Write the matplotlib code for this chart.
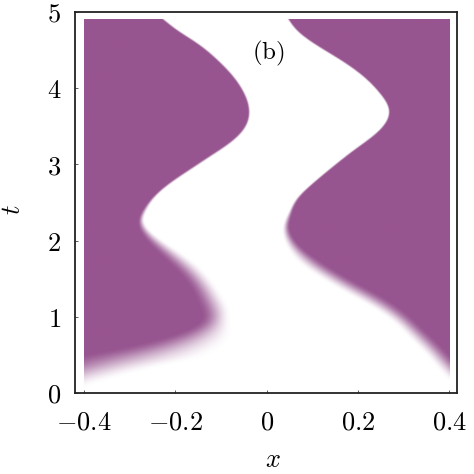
import numpy as np
import matplotlib
matplotlib.use('Agg')
from matplotlib import pyplot as plt
from matplotlib.colors import LinearSegmentedColormap

plt.rcParams['mathtext.fontset'] = 'cm'

# left purple region: boundary x_left(t), density falls off to the right of it
t_left = [0.0, 0.30, 0.39, 0.52, 0.66, 0.83, 1.05, 1.22, 1.44, 1.66, 1.88, 2.05,
          2.25, 2.40, 2.58, 2.75, 2.93, 3.10, 3.28, 3.45, 3.67, 3.93, 4.15, 4.37,
          4.59, 4.76, 4.90]
x_left = [-0.55, -0.39, -0.335, -0.25, -0.178, -0.127, -0.112, -0.123, -0.145,
          -0.178, -0.222, -0.255, -0.275, -0.267, -0.245, -0.212, -0.168, -0.125,
          -0.081, -0.052, -0.039, -0.050, -0.074, -0.109, -0.154, -0.197, -0.227]
# width of the soft edge (pixels, across the edge) along the left boundary
tw_left = [0.0, 0.4, 0.7, 1.05, 1.66, 2.05, 2.3, 2.6, 4.9]
w_left = [34, 34, 32, 30, 20, 11, 6, 2.5, 2]

# right purple region: boundary x_right(t), density falls off to the left of it
t_right = [0.0, 0.35, 0.56, 0.78, 1.0, 1.22, 1.39, 1.57, 1.75, 1.96, 2.18, 2.35,
           2.54, 2.75, 2.97, 3.19, 3.41, 3.58, 3.71, 3.93, 4.15, 4.37, 4.59, 4.76,
           4.90]
x_right = [0.46, 0.396, 0.364, 0.327, 0.287, 0.232, 0.181, 0.130, 0.087, 0.054,
           0.042, 0.050, 0.066, 0.101, 0.145, 0.192, 0.240, 0.263, 0.267, 0.247,
           0.211, 0.160, 0.101, 0.065, 0.047]
tw_right = [0.0, 0.56, 1.0, 1.4, 1.75, 1.96, 2.18, 2.4, 2.7, 4.9]
w_right = [20, 19, 17, 16, 16, 12, 8, 4, 2, 2]

x_ticks = [-0.4, -0.2, 0, 0.2, 0.4]
x_ticklabels = ['$-0.4$', '$-0.2$', '$0$', '$0.2$', '$0.4$']
t_ticks = [0, 1, 2, 3, 4, 5]
t_ticklabels = ['$0$', '$1$', '$2$', '$3$', '$4$', '$5$']

x_min, x_max, t_min, t_max = -0.4, 0.4, 0.0, 4.9


def spline(tk, yk, tq):
    # natural cubic spline through the read points
    tk = np.asarray(tk, float)
    yk = np.asarray(yk, float)
    n = len(tk)
    h = np.diff(tk)
    A = np.zeros((n, n))
    b = np.zeros(n)
    A[0, 0] = A[-1, -1] = 1
    for i in range(1, n - 1):
        A[i, i - 1] = h[i - 1]
        A[i, i] = 2 * (h[i - 1] + h[i])
        A[i, i + 1] = h[i]
        b[i] = 3 * ((yk[i + 1] - yk[i]) / h[i] - (yk[i] - yk[i - 1]) / h[i - 1])
    c = np.linalg.solve(A, b)
    i = np.clip(np.searchsorted(tk, tq) - 1, 0, n - 2)
    dx = tq - tk[i]
    bb = (yk[i + 1] - yk[i]) / h[i] - h[i] * (2 * c[i] + c[i + 1]) / 3
    d = (c[i + 1] - c[i]) / (3 * h[i])
    return yk[i] + bb * dx + c[i] * dx ** 2 + d * dx ** 3


def soft(d):
    s = np.clip(0.5 + d, 0, 1)
    return s * s * (3 - 2 * s)


fig = plt.figure(figsize=(4.74, 4.74), dpi=100)
ax = fig.add_axes([0.158, 0.171, 0.806, 0.804])
ax.set_xlim(-0.42, 0.417)
ax.set_ylim(0, 5)

# pixel scale of the data axes
p0 = ax.transData.transform((0, 0))
p1 = ax.transData.transform((1, 1))
px_x, px_t = p1 - p0

xs = np.linspace(x_min, x_max, 800)
ts = np.linspace(t_min, t_max, 800)
X = xs[None, :]

L = spline(t_left, x_left, ts)
R = spline(t_right, x_right, ts)
dL = np.gradient(L, ts) * px_x / px_t
dR = np.gradient(R, ts) * px_x / px_t
WL = np.interp(ts, tw_left, w_left)
WR = np.interp(ts, tw_right, w_right)

dist_l = (L[:, None] - X) * px_x / np.sqrt(1 + dL[:, None] ** 2)
dist_r = (X - R[:, None]) * px_x / np.sqrt(1 + dR[:, None] ** 2)
rho = np.maximum(soft(dist_l / WL[:, None]), soft(dist_r / WR[:, None]))

cmap = LinearSegmentedColormap.from_list('wp', ['#ffffff', '#975590'])
ax.imshow(rho, origin='lower', extent=[x_min, x_max, t_min, t_max],
          cmap=cmap, vmin=0, vmax=1, aspect='auto', interpolation='bilinear')

ax.set_xlim(-0.42, 0.417)
ax.set_ylim(0, 5)
ax.set_xticks(x_ticks)
ax.set_xticklabels(x_ticklabels)
ax.set_yticks(t_ticks)
ax.set_yticklabels(t_ticklabels)
ax.tick_params(direction='in', length=2.5, width=0.6, labelsize=19,
               color='#444444')
ax.tick_params(axis='x', pad=12)
ax.tick_params(axis='y', pad=10)
for s in ax.spines.values():
    s.set_linewidth(1.3)
    s.set_color('#222222')

ax.set_xlabel('$x$', fontsize=19)
ax.set_ylabel('$t$', fontsize=19)
ax.xaxis.set_label_coords(0.518, -0.142)
ax.yaxis.set_label_coords(-0.128, 0.48)

ax.text(0.005, 4.46, r'$\mathrm{(b)}$', ha='center', va='center', fontsize=18)

fig.savefig('out.png', dpi=100)
